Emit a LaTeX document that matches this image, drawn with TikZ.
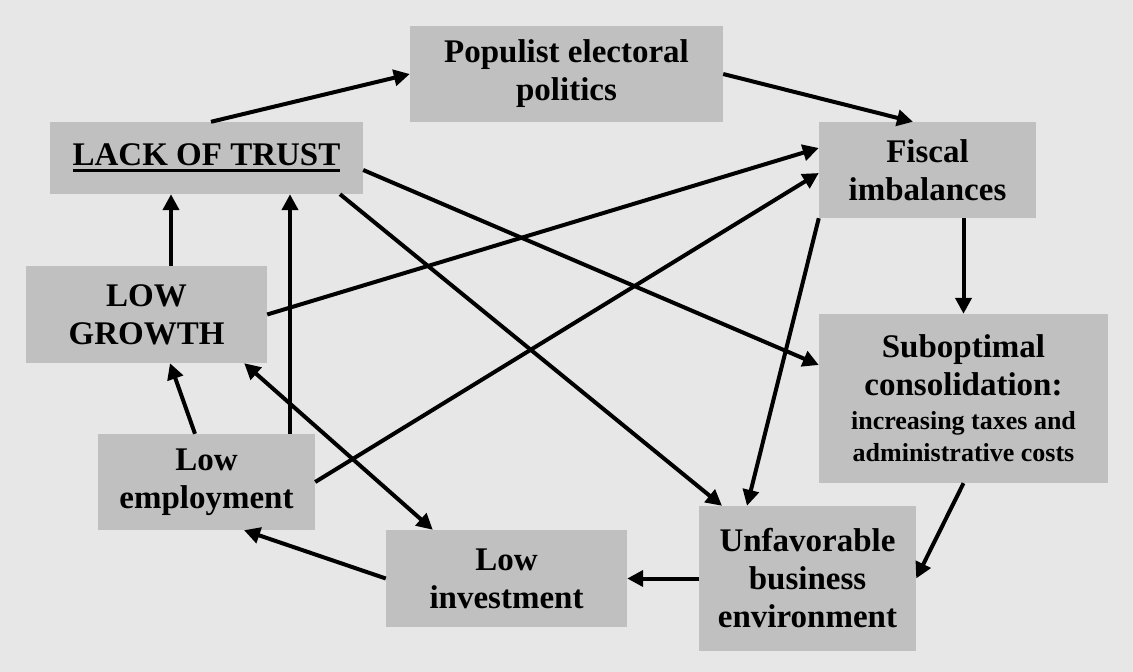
\documentclass[tikz,border=0pt]{standalone}
\usepackage{fontspec}
\setmainfont{Liberation Serif}
\usetikzlibrary{arrows.meta,calc}
\definecolor{bgc}{RGB}{231,231,231}
\definecolor{boxc}{RGB}{192,192,192}
\newcommand\myulbox[1]{\setbox0\hbox{#1}\rlap{\rule[-7pt]{\wd0}{3.5pt}}\box0}
\begin{document}
\begin{tikzpicture}[x=1pt,y=-1pt,
  box/.style={fill=boxc, draw=none, inner sep=0pt, align=center,
    font=\bfseries\fontsize{33}{38}\selectfont},
  arr/.style={line width=4pt, -{Triangle[length=16pt,width=16pt]}},
  darr/.style={line width=4pt, {Triangle[length=16pt,width=16pt]}-{Triangle[length=16pt,width=16pt]}}
]
\fill[bgc] (0,0) rectangle (1133,672);
\useasboundingbox (0,0) rectangle (1133,672);

\node[box, minimum width=313pt, minimum height=96pt] (pop) at (566.5,74) {Populist electoral\\politics};
\node[box, minimum width=313pt, minimum height=72pt] (lack) at (206.5,158) {\myulbox{LACK OF TRUST}};
\node[box, minimum width=217pt, minimum height=96pt] (fis) at (927.5,170) {Fiscal\\imbalances};
\node[box, minimum width=241pt, minimum height=97pt] (grow) at (146.5,314.5) {LOW\\GROWTH};
\node[box, minimum width=289pt, minimum height=169pt] (sub) at (963.5,398.5)
  {Suboptimal\\consolidation:\\[-4pt]{\fontsize{26}{30}\selectfont increasing taxes and}\\[-6pt]{\fontsize{26}{30}\selectfont administrative costs}};
\node[box, minimum width=217pt, minimum height=96pt] (emp) at (206.5,482) {Low\\employment};
\node[box, minimum width=241pt, minimum height=97pt] (inv) at (506.5,578.5) {Low\\investment};
\node[box, minimum width=217pt, minimum height=145pt] (unf) at (807.5,578.5) {Unfavorable\\business\\environment};

% connectors
\draw[arr] ([xshift=4.5pt]lack.north) -- (pop.west);
\draw[arr] (pop.east) -- ([xshift=-14.5pt]fis.north);
\draw[arr] (grow.east) -- ([yshift=22pt]fis.west);
\draw[arr] (emp.east) -- ([yshift=-3pt]fis.west);
\draw[arr] (fis.south west) -- ([xshift=-60.5pt]unf.north);
\draw[arr] ([yshift=-12pt]lack.east) -- ([yshift=33.5pt]sub.west);
\draw[arr] ([xshift=133.5pt]lack.south) -- ([xshift=-85.5pt]unf.north);
\draw[arr] (sub.north |- fis.south) -- (sub.north);
\draw[arr] (sub.south) -- (unf.east);
\draw[arr] (unf.west) -- (inv.east);
\draw[arr] (inv.west) -- ([xshift=37.5pt]emp.south);
\draw[arr] ([xshift=-11.5pt]emp.north) -- ([xshift=23.5pt]grow.south);
\draw[arr] ([xshift=83.5pt]emp.north) -- ([xshift=83.5pt]emp.north |- lack.south);
\draw[arr] ([xshift=24.5pt]grow.north) -- ([xshift=24.5pt]grow.north |- lack.south);
\draw[darr] ([xshift=-23pt]grow.south east) -- ([xshift=47pt]inv.north west);
\end{tikzpicture}
\end{document}
